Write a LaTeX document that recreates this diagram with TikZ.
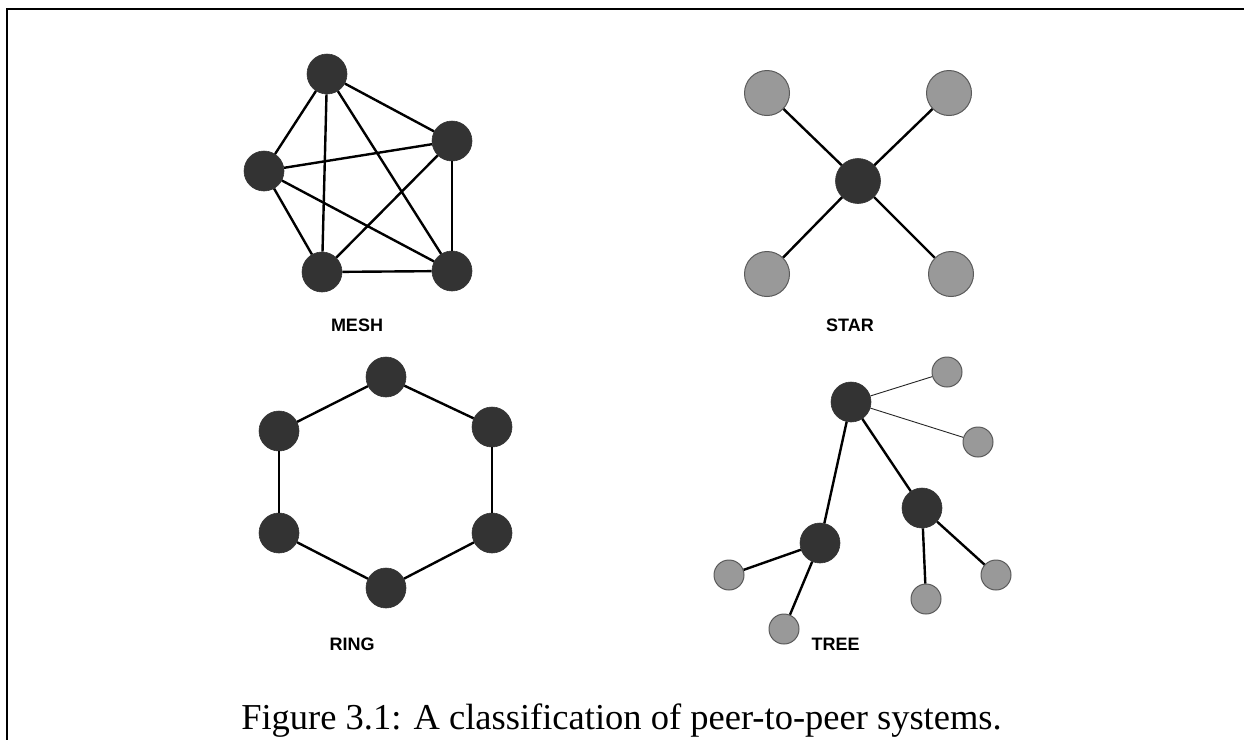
\documentclass[tikz,border=0pt]{standalone}
\usepackage{fontspec}
\setmainfont{Liberation Serif}
\newfontfamily\labelfont{Liberation Sans}
\definecolor{nodedark}{HTML}{333333}
\definecolor{nodegray}{HTML}{999999}
\definecolor{rimgray}{HTML}{5A5A5A}
\begin{document}
\begin{tikzpicture}[x=1pt,y=-1pt,
  dnode/.style={circle,fill=nodedark,draw=nodedark,line width=0.6pt,inner sep=0pt,minimum size=#1},
  dnode/.default=40pt,
  gnode/.style={circle,fill=nodegray,draw=rimgray,line width=1pt,inner sep=0pt,minimum size=#1},
  gnode/.default=30pt,
  link/.style={line width=2.4pt,black},
  thinlink/.style={line width=0.9pt,black!85},
  tag/.style={font=\labelfont\bfseries\fontsize{18}{18}\selectfont,anchor=base,inner sep=0pt},
  frameline/.style={line width=2.5pt,black}]
\useasboundingbox (0,0) rectangle (1244,740);

% page frame (top rule and left rule)
\coordinate (fTL) at (7,9);
\coordinate (fTR) at (1244,9);
\coordinate (fBL) at (7,740);
\draw[frameline] (fTR) -- (fTL) -- (fBL);

% ---------- mesh ----------
\node[dnode] (m1) at (327,74) {};
\node[dnode] (m2) at (452,141) {};
\node[dnode] (m3) at (264,171) {};
\node[dnode] (m4) at (322,272) {};
\node[dnode] (m5) at (452,271) {};
\foreach \a/\b in {m1/m2,m1/m3,m1/m4,m1/m5,m2/m3,m2/m4,m2/m5,m3/m4,m3/m5,m4/m5}
  \draw[link] (\a) -- (\b);
\node[tag] (meshlabel) at (357,331.5) {MESH};

% ---------- star ----------
\node[dnode=45pt] (s0) at (858,181) {};
\node[gnode=45pt] (s1) at (767,93) {};
\node[gnode=45pt] (s2) at (949,93) {};
\node[gnode=45pt] (s3) at (767,274) {};
\node[gnode=45pt] (s4) at (951,274) {};
\foreach \b in {s1,s2,s3,s4}
  \draw[link] (s0) -- (\b);
\node[tag] (starlabel) at (850,331.5) {STAR};

% ---------- ring ----------
\node[dnode] (r1) at (386,377) {};
\node[dnode] (r2) at (492,427) {};
\node[dnode] (r3) at (492,533) {};
\node[dnode] (r4) at (386,588) {};
\node[dnode] (r5) at (279,533) {};
\node[dnode] (r6) at (279,431) {};
\foreach \a/\b in {r1/r2,r2/r3,r3/r4,r4/r5,r5/r6,r6/r1}
  \draw[link] (\a) -- (\b);
\node[tag] (ringlabel) at (352,650) {RING};

% ---------- tree ----------
\node[dnode] (t0) at (851,402) {};
\node[gnode] (t1) at (947,372) {};
\node[gnode] (t2) at (978,442) {};
\node[dnode] (t3) at (922,508) {};
\node[dnode] (t4) at (820,543) {};
\node[gnode] (t5) at (729,575) {};
\node[gnode] (t6) at (784,629) {};
\node[gnode] (t7) at (926,599) {};
\node[gnode] (t8) at (996,575) {};
\draw[thinlink] (t0) -- (t1);
\draw[thinlink] (t0) -- (t2);
\foreach \a/\b in {t0/t3,t0/t4,t4/t5,t4/t6,t3/t7,t3/t8}
  \draw[link] (\a) -- (\b);
\node[tag] (treelabel) at (835.5,650) {TREE};

% ---------- caption ----------
\node[anchor=base,inner sep=0pt,font=\fontsize{36.5}{36.5}\selectfont] (caption) at (621.5,729)
  {Figure 3.1: A classification of peer-to-peer systems.};
\end{tikzpicture}
\end{document}
